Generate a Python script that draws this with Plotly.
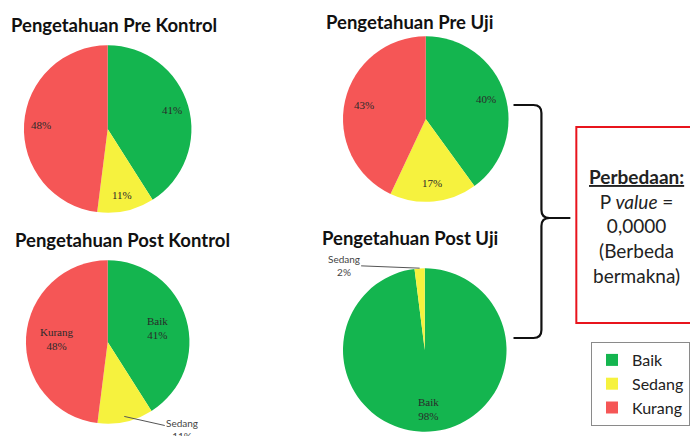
import math
import plotly.graph_objects as go

# ---- data ----
categories = ["Baik", "Sedang", "Kurang"]
pre_kontrol = [41, 11, 48]
pre_uji = [40, 17, 43]
post_kontrol = [41, 11, 48]
post_uji = [98, 2, 0]
titles = ["Pengetahuan Pre Kontrol", "Pengetahuan Pre Uji",
          "Pengetahuan Post Kontrol", "Pengetahuan Post Uji"]
box_lines = ["<b><u>Perbedaan:</u></b>", "P <i>value</i> =", "0,0000", "(Berbeda", "bermakna)"]

# ---- layout constants ----
W, H = 690, 436
colors = ["#14B54F", "#F6F23E", "#F55656"]
FONT = "Lato, 'Open Sans', sans-serif"

def px(x):
    return x / W

def py(y):
    return 1 - y / H

# pie geometry (center x, center y, radius) in pixels
geo = [(108, 129, 84), (427, 119, 83), (108, 342, 82), (426, 350, 82)]
title_pos = [(114, 25), (411, 22), (123, 240), (411, 238)]
# inside label: which slices get an inside label, with radial fraction, and label style
label_frac = [0.8, 0.77, 0.63, 0.72]
inside_show = [[True, True, True], [True, True, True], [True, False, True], [True, False, False]]
with_name = [False, False, True, True]

fig = go.Figure()

def slice_point(values, idx, g, frac):
    tot = sum(values)
    start = sum(values[:idx]) / tot
    mid = (start + values[idx] / tot / 2) * 2 * math.pi
    cx, cy, r = g
    return cx + frac * r * math.sin(mid), cy - frac * r * math.cos(mid)

series = [pre_kontrol, pre_uji, post_kontrol, post_uji]
annotations = []
for i, (vals, g) in enumerate(zip(series, geo)):
    cx, cy, r = g
    fig.add_trace(go.Pie(
        labels=categories, values=vals, textinfo="none",
        marker=dict(colors=colors, line=dict(width=0)),
        sort=False, direction="clockwise", rotation=0,
        domain=dict(x=[px(cx - r), px(cx + r)], y=[py(cy + r), py(cy - r)]),
        showlegend=(i == 0), hoverinfo="label+percent",
    ))
    for k, cat in enumerate(categories):
        if not inside_show[i][k] or vals[k] == 0:
            continue
        lx, ly = slice_point(vals, k, g, label_frac[i])
        txt = f"{cat}<br>{vals[k]}%" if with_name[i] else f"{vals[k]}%"
        annotations.append(dict(x=px(lx), y=py(ly), xref="paper", yref="paper", text=txt,
                                showarrow=False, xanchor="center", yanchor="middle",
                                font=dict(family="Liberation Serif", size=11, color="#2a2a2a")))

for t, (tx, ty) in zip(titles, title_pos):
    annotations.append(dict(x=px(tx), y=py(ty), xref="paper", yref="paper", text=f"<b>{t}</b>",
                            showarrow=False, font=dict(family=FONT, size=18.5, color="#111"),
                            xanchor="center", yanchor="middle"))

# outside labels for "Sedang" slices with leader lines
ex, ey = slice_point(post_kontrol, 1, geo[2], 0.93)
annotations.append(dict(x=px(ex), y=py(ey), xref="paper", yref="paper",
                        text=f"Sedang<br>{post_kontrol[1]}%", showarrow=True, arrowhead=0,
                        arrowwidth=1, arrowcolor="#555", ax=58, ay=13,
                        font=dict(family=FONT, size=10, color="#444")))
ex, ey = slice_point(post_uji, 1, geo[3], 1.0)
annotations.append(dict(x=px(ex), y=py(ey), xref="paper", yref="paper",
                        text=f"Sedang<br>{post_uji[1]}%", showarrow=True, arrowhead=0,
                        arrowwidth=1, arrowcolor="#555", ax=-76, ay=-3,
                        font=dict(family=FONT, size=10, color="#444")))

# box text
annotations.append(dict(x=px(638), y=py(226), xref="paper", yref="paper",
                        text="<br>".join(box_lines), showarrow=False, align="center",
                        font=dict(family=FONT, size=19, color="#222"),
                        xanchor="center", yanchor="middle"))

# curly brace path (pixels -> paper)
def P(x, y):
    return f"{px(x):.5f},{py(y):.5f}"

brace = (f"M {P(515,105)} L {P(535,105)} Q {P(543,105)} {P(543,113)} "
         f"L {P(543,210)} Q {P(543,218)} {P(551,218)} L {P(572,218)} "
         f"M {P(551,218)} Q {P(543,218)} {P(543,226)} "
         f"L {P(543,330)} Q {P(543,338)} {P(535,338)} L {P(515,338)}")

shapes = [
    dict(type="path", path=brace, xref="paper", yref="paper",
         line=dict(color="#111", width=2.2)),
    dict(type="rect", xref="paper", yref="paper", x0=px(578), x1=px(700), y0=py(323), y1=py(127),
         line=dict(color="#E8141C", width=2)),
]

fig.update_layout(
    width=W, height=H, margin=dict(l=0, r=0, t=0, b=0),
    paper_bgcolor="white", plot_bgcolor="white",
    annotations=annotations, shapes=shapes,
    legend=dict(x=px(593), y=py(342), xanchor="left", yanchor="top",
                bordercolor="#8a8a8a", borderwidth=1, bgcolor="white",
                font=dict(family=FONT, size=16, color="#222"), itemwidth=30,
                traceorder="normal"),
)

fig.write_html("out.html", config={"displayModeBar": False},
               post_script="document.body.style.margin='0px';")
